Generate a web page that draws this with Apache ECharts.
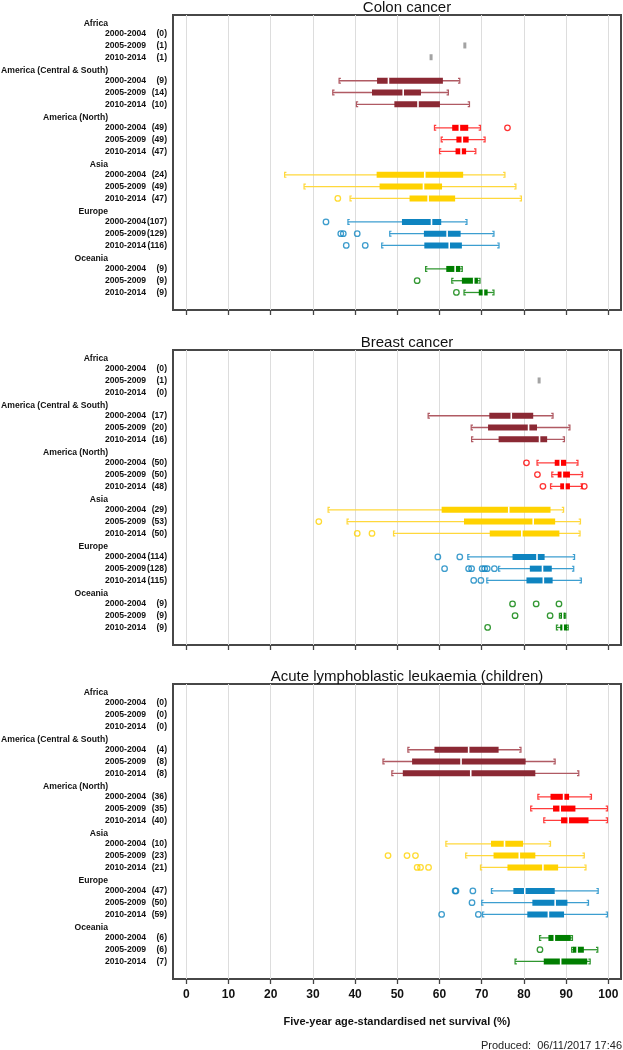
<!DOCTYPE html>
<html>
<head>
<meta charset="utf-8">
<script src="https://cdn.jsdelivr.net/npm/echarts@6/dist/echarts.min.js"></script>
<style>
  html, body { margin: 0; padding: 0; background: #fff; }
  #chart { width: 623px; height: 1050px; }
</style>
</head>
<body>
<div id="chart"></div>
<script>
const regions = ['Africa', 'America (Central & South)', 'America (North)', 'Asia', 'Europe', 'Oceania'];
const periods = ['2000-2004', '2005-2009', '2010-2014'];
const xTicks = [0, 10, 20, 30, 40, 50, 60, 70, 80, 90, 100];

// rows: 6 regions x 3 periods. box = [min, q1, median, q3, max]
const colonCounts = [0, 1, 1, 9, 14, 10, 49, 49, 47, 24, 49, 47, 107, 129, 116, 9, 9, 9];
const colonBoxes = [
  null, [66, 66, 66, 66, 66], [58, 58, 58, 58, 58],
  [36.2, 45.2, 47.9, 60.8, 64.8], [34.7, 44.0, 51.4, 55.6, 62.1], [40.3, 49.3, 54.9, 60.1, 67.1],
  [58.8, 63.0, 64.7, 66.8, 69.7], [60.4, 64.0, 65.4, 66.9, 70.8], [60.0, 63.8, 65.1, 66.3, 68.6],
  [23.3, 45.1, 56.5, 65.6, 75.5], [27.9, 45.8, 56.2, 60.6, 78.1], [38.8, 52.9, 57.3, 63.7, 79.4],
  [38.3, 51.1, 58.1, 60.4, 66.5], [48.2, 56.3, 61.8, 65.0, 72.9], [46.3, 56.4, 62.3, 65.3, 74.1],
  [56.7, 61.6, 63.7, 64.9, 65.4], [62.9, 65.3, 68.1, 69.1, 69.6], [65.8, 69.3, 70.4, 71.4, 72.9]
];
// [row, value]
const colonOutliers = [
  [6, 76.1], [11, 35.9], [12, 33.1], [13, 36.6], [13, 37.2], [13, 40.5],
  [14, 37.9], [14, 42.4], [16, 54.7], [17, 64.0]
];

const breastCounts = [0, 1, 0, 17, 20, 16, 50, 50, 48, 29, 53, 50, 114, 128, 115, 9, 9, 9];
const breastBoxes = [
  null, [83.6, 83.6, 83.6, 83.6, 83.6], null,
  [57.3, 71.8, 77.0, 82.2, 86.9], [67.5, 71.5, 81.1, 83.1, 90.9], [67.6, 74.0, 83.7, 85.5, 89.6],
  [83.1, 87.3, 88.6, 90.0, 92.8], [86.6, 88.0, 89.1, 90.9, 93.9], [86.3, 88.6, 89.7, 90.9, 93.8],
  [33.6, 60.5, 76.4, 86.3, 89.4], [38.1, 65.8, 82.2, 87.4, 93.4], [49.1, 71.9, 79.5, 88.4, 93.3],
  [66.7, 77.3, 83.1, 84.9, 92.0], [74.0, 81.4, 84.4, 86.6, 91.8], [71.2, 80.6, 84.6, 86.8, 93.6],
  null, [88.4, 88.7, 89.2, 89.7, 89.9], [87.7, 88.6, 89.3, 90.2, 90.5]
];
const breastOutliers = [
  [6, 80.6], [7, 83.2], [8, 84.5], [8, 94.3], [10, 31.4], [11, 40.5], [11, 44.0],
  [12, 59.6], [12, 64.8], [13, 61.2], [13, 66.9], [13, 67.6], [13, 70.1], [13, 70.7], [13, 71.3], [13, 73.0],
  [14, 68.1], [14, 69.8], [15, 77.3], [15, 82.9], [15, 88.3], [16, 77.9], [16, 86.2], [17, 71.4]
];

const allCounts = [0, 0, 0, 4, 8, 8, 36, 35, 40, 10, 23, 21, 47, 50, 59, 6, 6, 7];
const allBoxes = [
  null, null, null,
  [52.5, 58.8, 66.9, 74.0, 79.3], [46.6, 53.5, 65.1, 80.4, 87.4], [48.7, 51.3, 67.4, 82.7, 93.0],
  [83.3, 86.3, 89.4, 90.7, 96.0], [81.6, 86.9, 88.6, 92.2, 99.8], [84.7, 88.8, 90.5, 95.3, 99.8],
  [61.5, 72.2, 75.4, 79.8, 86.3], [66.2, 72.8, 78.9, 82.7, 94.3], [69.7, 76.1, 84.5, 88.1, 94.7],
  [72.3, 77.5, 80.2, 87.3, 97.6], [70.0, 82.0, 87.4, 90.3, 95.3], [70.2, 80.8, 85.8, 89.5, 99.8],
  [83.7, 85.8, 87.2, 91.1, 91.5], [91.3, 91.6, 92.6, 94.2, 97.5], [77.9, 84.7, 88.7, 95.0, 95.7]
];
const allOutliers = [
  [10, 47.8], [10, 52.3], [10, 54.3], [11, 54.7], [11, 55.5], [11, 57.4],
  [12, 63.7], [12, 63.9], [12, 67.9], [13, 67.7], [14, 60.5], [14, 69.2], [16, 83.8]
];

const titles = ['Colon cancer', 'Breast cancer', 'Acute lymphoblastic leukaemia (children)'];

const boxColors = ['#a3a3a3', '#8b2934', '#ff0000', '#ffd200', '#0e84c0', '#007e00'];
const whiskerColors = ['#b0b0b0', '#b05a63', '#ff3c3c', '#ffd83c', '#3c9ed0', '#2f962f'];

const font = "'Liberation Sans', Arial, sans-serif";
const gridTops = [15, 350, 684];

// vertical slot of each label: region header at g*4, periods below it
function rowPos(i) {
  return Math.floor(i / 3) * 4 + 0.87 + (i % 3);
}

const panels = [
  { counts: colonCounts, boxes: colonBoxes, outliers: colonOutliers },
  { counts: breastCounts, boxes: breastBoxes, outliers: breastOutliers },
  { counts: allCounts, boxes: allBoxes, outliers: allOutliers }
];

const labelPos = [];
regions.forEach((r, g) => {
  labelPos.push(g * 4);
  periods.forEach((p, k) => labelPos.push(rowPos(g * 3 + k)));
});

function labelText(panel, v) {
  const key = Math.round(v * 100);
  for (let g = 0; g < regions.length; g++) {
    if (Math.round(g * 400) === key) return '{h|' + regions[g] + '}';
    for (let k = 0; k < 3; k++) {
      const i = g * 3 + k;
      if (Math.round(rowPos(i) * 100) === key) {
        return '{p|' + periods[k] + '}{n|(' + panel.counts[i] + ')}';
      }
    }
  }
  return '';
}

function renderBox(params, api) {
  const y = api.value(0);
  const lo = api.value(1), q1 = api.value(2), md = api.value(3), q3 = api.value(4), hi = api.value(5);
  const c = api.value(6);
  const pLo = api.coord([lo, y]);
  const pQ1 = api.coord([q1, y]);
  const pMd = api.coord([md, y]);
  const pQ3 = api.coord([q3, y]);
  const pHi = api.coord([hi, y]);
  const cy = pLo[1];
  const h = 6;
  const children = [];
  if (hi - lo < 0.01) {
    children.push({
      type: 'rect',
      shape: { x: pMd[0] - 1.5, y: cy - h / 2, width: 3, height: h },
      style: { fill: boxColors[c] }
    });
    return { type: 'group', children: children };
  }
  const wc = whiskerColors[c];
  children.push({
    type: 'line',
    shape: { x1: pLo[0], y1: cy, x2: pHi[0], y2: cy },
    style: { stroke: wc, lineWidth: 1.3 }
  });
  children.push({
    type: 'polyline',
    shape: { points: [[pLo[0] + 1.8, cy - 2.4], [pLo[0], cy - 2.4], [pLo[0], cy + 2.4], [pLo[0] + 1.8, cy + 2.4]] },
    style: { stroke: wc, lineWidth: 1.2, fill: null }
  });
  children.push({
    type: 'polyline',
    shape: { points: [[pHi[0] - 1.8, cy - 2.4], [pHi[0], cy - 2.4], [pHi[0], cy + 2.4], [pHi[0] - 1.8, cy + 2.4]] },
    style: { stroke: wc, lineWidth: 1.2, fill: null }
  });
  children.push({
    type: 'rect',
    shape: { x: pQ1[0], y: cy - h / 2, width: Math.max(pQ3[0] - pQ1[0], 2), height: h },
    style: { fill: boxColors[c] }
  });
  children.push({
    type: 'rect',
    shape: { x: pMd[0] - 0.8, y: cy - h / 2 - 0.5, width: 1.6, height: h + 1 },
    style: { fill: '#fff' }
  });
  return { type: 'group', children: children };
}

const grids = [], xAxes = [], yAxes = [], series = [];
const titleList = titles.map((t, i) => ({
  text: t,
  left: 407,
  top: gridTops[i] - 15,
  padding: 0,
  textAlign: 'center',
  textStyle: { fontSize: 15, fontWeight: 'normal', color: '#111', fontFamily: font }
}));
titleList.push({
  text: 'Produced:  06/11/2017 17:46',
  right: 1,
  top: 1040,
  padding: 0,
  textStyle: { fontSize: 11, fontWeight: 'normal', color: '#222', fontFamily: font }
});

const labelStyle = { fontSize: 8.6, fontWeight: 'bold', color: '#111', fontFamily: font };

panels.forEach((panel, i) => {
  grids.push({
    left: 173, right: 2, top: gridTops[i], height: 295,
    outerBoundsMode: 'none', containLabel: false,
    show: true, borderColor: '#474747', borderWidth: 2, backgroundColor: 'transparent'
  });
  xAxes.push({
    gridIndex: i,
    type: 'value',
    min: -3.15,
    max: 103,
    axisLine: { show: false, onZero: false },
    axisTick: { show: true, customValues: xTicks, length: 5, lineStyle: { color: '#444', width: 1.3 } },
    axisLabel: {
      show: i === 2, customValues: xTicks, margin: 10,
      fontSize: 12, fontWeight: 'bold', color: '#111', fontFamily: font
    },
    splitLine: { show: true, lineStyle: { color: '#dddddd', width: 1 } },
    name: i === 2 ? 'Five-year age-standardised net survival (%)' : '',
    nameLocation: 'middle',
    nameGap: 37,
    nameTextStyle: { fontSize: 11, fontWeight: 'bold', color: '#111', fontFamily: font }
  });
  yAxes.push({
    gridIndex: i,
    type: 'value',
    inverse: true,
    min: -0.72,
    max: 24.36,
    axisLine: { show: false },
    axisTick: { show: false },
    splitLine: { show: false },
    axisLabel: {
      customValues: labelPos,
      margin: 6,
      formatter: v => labelText(panel, v),
      rich: {
        h: Object.assign({ padding: [0, 59, 0, 0] }, labelStyle),
        p: Object.assign({}, labelStyle),
        n: Object.assign({ width: 21, align: 'right' }, labelStyle)
      }
    }
  });
  const boxData = [];
  panel.boxes.forEach((b, r) => {
    if (b) boxData.push([rowPos(r)].concat(b).concat([Math.floor(r / 3)]));
  });
  series.push({
    type: 'custom',
    xAxisIndex: i,
    yAxisIndex: i,
    renderItem: renderBox,
    encode: { x: [1, 2, 3, 4, 5], y: 0 },
    data: boxData,
    z: 3
  });
  series.push({
    type: 'scatter',
    xAxisIndex: i,
    yAxisIndex: i,
    symbol: 'circle',
    symbolSize: 5.5,
    z: 4,
    data: panel.outliers.map(o => ({
      value: [o[1], rowPos(o[0])],
      itemStyle: { color: 'transparent', borderColor: boxColors[Math.floor(o[0] / 3)], borderWidth: 1.3 }
    }))
  });
});

const myChart = echarts.init(document.getElementById('chart'), null, { renderer: 'canvas' });
myChart.setOption({
  animation: false,
  backgroundColor: '#fff',
  title: titleList,
  grid: grids,
  xAxis: xAxes,
  yAxis: yAxes,
  series: series
});
</script>
</body>
</html>
